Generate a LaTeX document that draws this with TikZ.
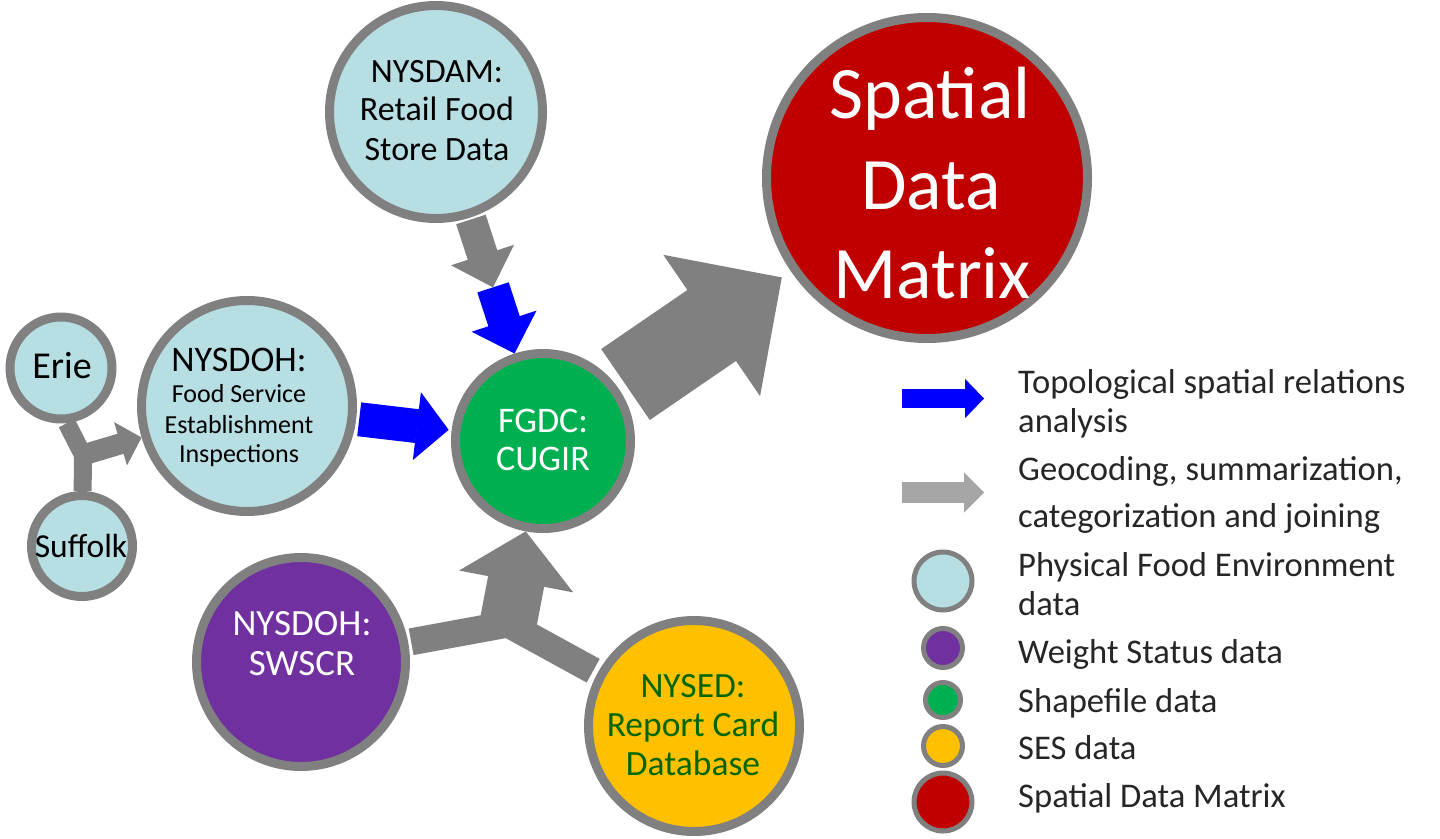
\documentclass[tikz,border=0pt]{standalone}
\usepackage{fontspec}
\setmainfont{Carlito}
\usetikzlibrary{arrows.meta,calc}
\definecolor{lblue}{RGB}{183,222,226}
\definecolor{bord}{RGB}{128,128,128}
\definecolor{sdmred}{RGB}{192,0,0}
\definecolor{wpurple}{RGB}{112,48,160}
\definecolor{sgreen}{RGB}{0,176,80}
\definecolor{syellow}{RGB}{255,192,0}
\definecolor{ablue}{RGB}{0,0,255}
\definecolor{agray}{RGB}{128,128,128}
\definecolor{lgray}{RGB}{166,166,166}
\definecolor{dgreen}{RGB}{0,102,0}
\definecolor{legtext}{RGB}{38,38,38}
\newcommand\myfs[1]{\fontsize{#1}{#1}\selectfont}
\begin{document}
\begin{tikzpicture}[x=1pt,y=-1pt,
  disc/.style={circle, draw=bord, line width=9pt, inner sep=0pt, minimum size=#1},
  ldisc/.style={circle, draw=bord, line width=5pt, inner sep=0pt, minimum size=#1},
  blockarrow/.style n args={3}{line width=#1, -{Triangle[length=#2,width=#3,line width=1.5pt]}},
  stemline/.style={line width=#1, line cap=butt},
  txt/.style={inner sep=0pt, anchor=base},
  legtxt/.style={inner sep=0pt, anchor=base west, text=legtext, font={\myfs{34.6}}}]
\useasboundingbox (0,0) rectangle (1440,838);
\fill[white] (0,0) rectangle (1440,838);

% ---------- circles ----------
\node[disc=213pt, fill=lblue] (nysdam) at (436,112) {};
\node[disc=321pt, fill=sdmred] (sdm) at (927,178) {};
\node[disc=102pt, fill=lblue] (erie) at (61,368) {};
\node[disc=211pt, fill=lblue] (nysdoh) at (247,406) {};
\node[disc=101pt, fill=lblue] (suffolk) at (82,546) {};
\node[disc=175pt, fill=sgreen] (fgdc) at (543,441) {};
\node[disc=209pt, fill=wpurple] (swscr) at (301,662) {};
\node[disc=211pt, fill=syellow] (nysed) at (694,726) {};

% ---------- connectors ----------
\coordinate (K) at (83,455);
\coordinate (J) at (508,624);
\coordinate (M) at ($(nysdam)!0.533!(fgdc)$);

\draw[bord, stemline=18pt] (erie.-84) -- (K);
\draw[bord, stemline=18pt] (suffolk) -- ([yshift=-2pt]K);
\draw[agray, blockarrow={21pt}{22pt}{45pt}, shorten <=-6pt] (K) -- (nysdoh);

\draw[ablue, blockarrow={34pt}{32pt}{68pt}, shorten <=3pt, shorten >=3pt] (nysdoh) -- (fgdc);

\draw[agray, blockarrow={31pt}{34pt}{66pt}, shorten <=2pt] (nysdam) -- (M);
\draw[ablue, blockarrow={33pt}{34pt}{68pt}] (M) -- (fgdc);

\draw[agray, blockarrow={86pt}{85pt}{171pt}, shorten <=8pt, shorten >=11pt] (fgdc) -- (sdm);

\draw[agray, stemline=27pt, shorten <=3pt] (swscr) -- (J);
\draw[agray, stemline=27pt, shorten <=5pt] (nysed) -- (J);
\draw[agray, blockarrow={57pt}{51pt}{116pt}, shorten <=-8pt] (J) -- (fgdc);

% ---------- circle texts ----------
\node[txt, font={\myfs{34}}] (dam1) at (437,82) {NYSDAM:};
\node[txt, font={\myfs{34}}] (dam2) at (437,120) {Retail Food};
\node[txt, font={\myfs{34}}] (dam3) at (437,160) {Store Data};

\node[txt, text=white, font={\myfs{74}}] (sdm1) at (930,118) {Spatial};
\node[txt, text=white, font={\myfs{74}}] (sdm2) at (931,209) {Data};
\node[txt, text=white, font={\myfs{74}}] (sdm3) at (932,298) {Matrix};

\node[txt, font={\myfs{38}}] (erie1) at (62,378) {Erie};
\node[txt, font={\myfs{33.5}}] (suf1) at (81,557) {Suffolk};

\node[txt, font={\myfs{36}}] (doh1) at (239,371) {NYSDOH:};
\node[txt, font={\myfs{26}}] (doh2) at (239,402) {Food Service};
\node[txt, font={\myfs{26}}] (doh3) at (239,433) {Establishment};
\node[txt, font={\myfs{26}}] (doh4) at (239,462) {Inspections};

\node[txt, text=white, font={\myfs{36}}] (fg1) at (543,432) {FGDC:};
\node[txt, text=white, font={\myfs{36}}] (fg2) at (543,470) {CUGIR};

\node[txt, text=white, font={\myfs{37}}] (sw1) at (302,635) {NYSDOH:};
\node[txt, text=white, font={\myfs{37}}] (sw2) at (302,675) {SWSCR};

\node[txt, text=dgreen, font={\myfs{35.5}}] (ed1) at (693,697) {NYSED:};
\node[txt, text=dgreen, font={\myfs{35.5}}] (ed2) at (693,736) {Report Card};
\node[txt, text=dgreen, font={\myfs{35.5}}] (ed3) at (693,775) {Database};

% ---------- legend ----------
\coordinate (la1) at (902,398.5);
\coordinate (la2) at (984,398.5);
\draw[ablue, blockarrow={19pt}{19pt}{39pt}] (la1) -- (la2);
\coordinate (lg1) at (902,492.5);
\coordinate (lg2) at (984,492.5);
\draw[lgray, blockarrow={21pt}{20pt}{40pt}] (lg1) -- (lg2);

\node[ldisc=58pt, fill=lblue] (lc1) at (943,581) {};
\node[ldisc=39pt, fill=wpurple] (lc2) at (943,648) {};
\node[ldisc=35pt, fill=sgreen] (lc3) at (943,700) {};
\node[ldisc=39pt, fill=syellow] (lc4) at (943,746) {};
\node[ldisc=58pt, fill=sdmred] (lc5) at (943,802) {};

\node[legtxt] (lt1) at (1018,393) {Topological spatial relations};
\node[legtxt] (lt2) at (1018,432) {analysis};
\node[legtxt] (lt3) at (1018,480) {Geocoding, summarization,};
\node[legtxt] (lt4) at (1018,527) {categorization and joining};
\node[legtxt] (lt5) at (1018,576) {Physical Food Environment};
\node[legtxt] (lt6) at (1018,615) {data};
\node[legtxt] (lt7) at (1018,663) {Weight Status data};
\node[legtxt] (lt8) at (1018,712) {Shapefile data};
\node[legtxt] (lt9) at (1018,759) {SES data};
\node[legtxt] (lt10) at (1018,807) {Spatial Data Matrix};
\end{tikzpicture}
\end{document}
